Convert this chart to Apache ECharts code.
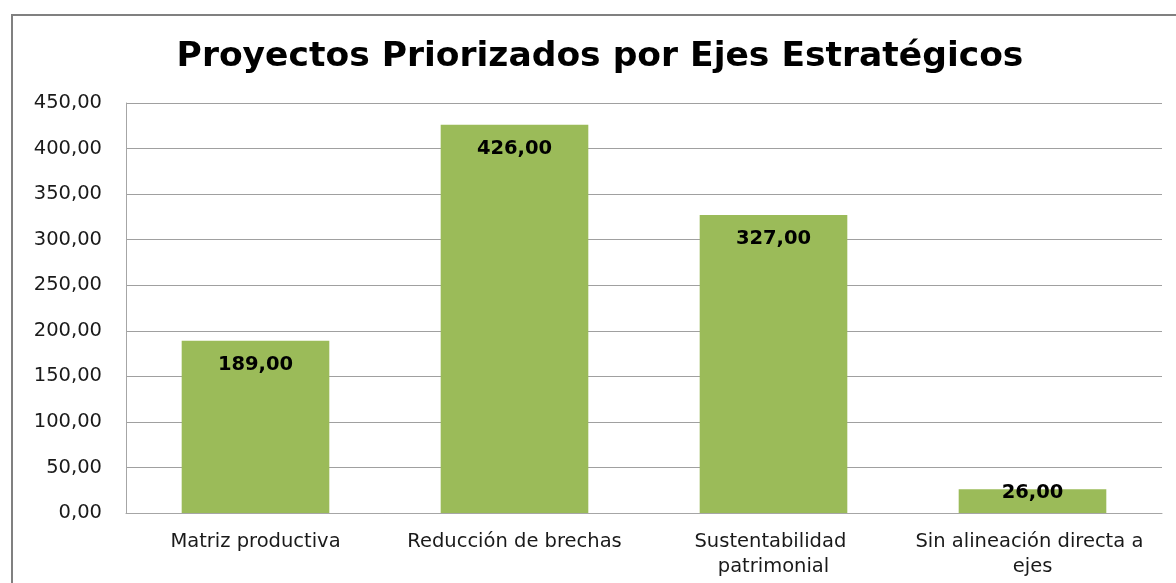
<!DOCTYPE html>
<html><head><meta charset="utf-8">
<script src="https://cdn.jsdelivr.net/npm/echarts@6/dist/echarts.min.js"></script>
<style>html,body{margin:0;padding:0;background:#fff}#c{width:1176px;height:583px}</style>
</head><body><div id="c"></div>
<script>
var title = 'Proyectos Priorizados por Ejes Estratégicos';
var categories = ['Matriz productiva', 'Reducción de brechas', 'Sustentabilidad patrimonial', 'Sin alineación directa a ejes'];
var values = [189, 426, 327, 26];
var yMin = 0, yMax = 450, yStep = 50;

function fmt(v){ return v.toFixed(2).replace('.', ','); }
var FONT = '"DejaVu Sans", sans-serif';
var chart = echarts.init(document.getElementById('c'), null, {renderer:'canvas'});
var data = values.map(function(v, i){
  var d = {value: v};
  if (v < 40) d.label = {position: 'inside', offset: [0, -8]};
  return d;
});
chart.setOption({
  animation: false,
  title: {text: title, left: 595, textAlign: 'center', top: 35,
    textStyle: {fontFamily: FONT, fontWeight: 'bold', fontSize: 34.5, color: '#000'}},
  graphic: [{type: 'rect', shape: {x: 12, y: 15, width: 1200, height: 600},
    style: {fill: 'none', stroke: '#808080', lineWidth: 2}, silent: true}],
  grid: {left: 126, right: 14, top: 103, bottom: 70, show: false},
  xAxis: {type: 'category', data: categories,
    axisLine: {lineStyle: {color: '#a6a6a6'}}, axisTick: {show: false},
    axisLabel: {fontFamily: FONT, fontSize: 19.5, color: '#1a1a1a', margin: 16, lineHeight: 25,
      width: 258, overflow: 'break', interval: 0}},
  yAxis: {type: 'value', min: yMin, max: yMax, interval: yStep,
    axisLine: {show: true, lineStyle: {color: '#a6a6a6'}}, axisTick: {show: false},
    splitLine: {lineStyle: {color: '#a0a0a0'}},
    axisLabel: {fontFamily: FONT, fontSize: 19.5, color: '#1a1a1a', margin: 24, formatter: fmt}},
  series: [{type: 'bar', data: data, barWidth: '57%',
    itemStyle: {color: '#9bbb59'},
    label: {show: true, position: 'insideTop', distance: 14, fontFamily: FONT, fontWeight: 'bold',
      fontSize: 19.5, color: '#000', formatter: function(p){ return fmt(p.value); }}}]
});
</script></body></html>
